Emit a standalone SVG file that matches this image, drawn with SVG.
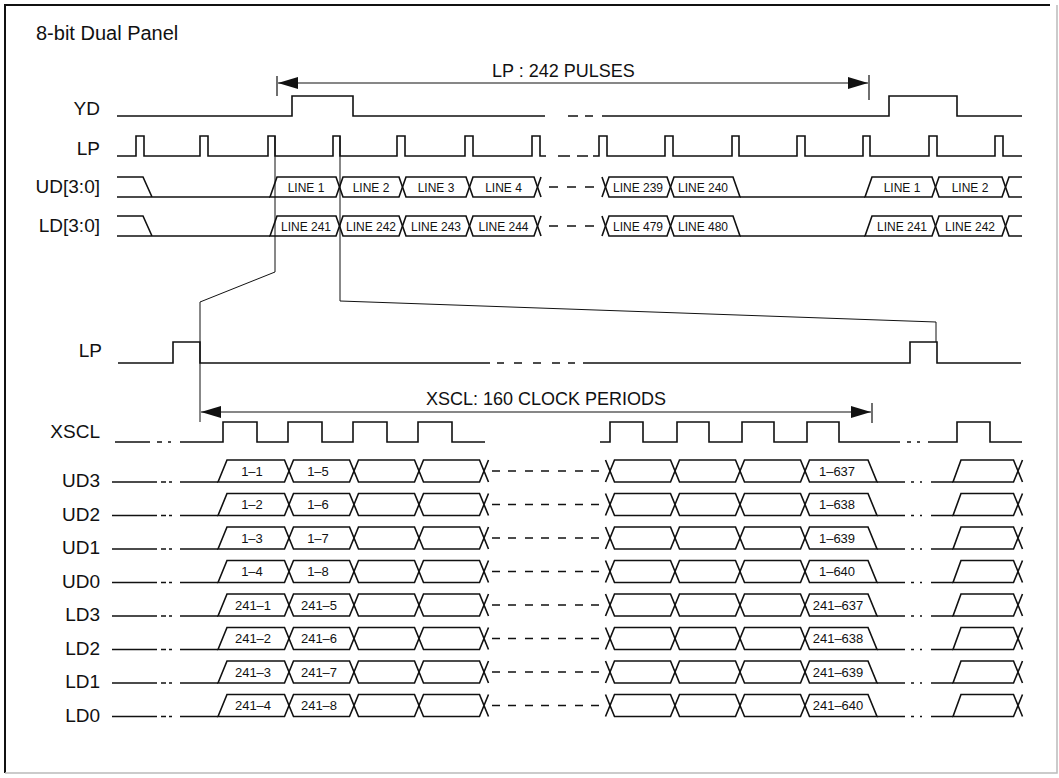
<svg xmlns="http://www.w3.org/2000/svg" width="1059" height="778" viewBox="0 0 1059 778">
<style>
  text { font-family: "Liberation Sans", Arial, Helvetica, sans-serif; fill: #111; }
  .title { font-size: 20px; }
  .lbl { font-size: 19px; text-anchor: end; }
  .ann { font-size: 18px; text-anchor: middle; }
  .bus { font-size: 12px; text-anchor: middle; }
  .cell { font-size: 13px; text-anchor: middle; }
  .w { fill: none; stroke: #111; stroke-width: 1.6; stroke-linejoin: miter; }
  .conn { fill: none; stroke: #111; stroke-width: 1; }
  .dim { fill: none; stroke: #111; stroke-width: 1.2; }
</style>
<defs>
  <marker id="ah" viewBox="0 0 20 12" refX="20" refY="6" markerWidth="20" markerHeight="12" markerUnits="userSpaceOnUse" orient="auto-start-reverse">
    <path d="M0,0 L20,6 L0,12 z" fill="#111"/>
  </marker>
  <g id="topbus" class="w">
    <path d="M117,0 H143 L152,20 M117,20 H270"/>
    <polygon points="270,20 277,0 336,0 339.5,10 336,20"/>
    <polygon points="339.5,10 343,0 399,0 402.5,10 399,20 343,20"/>
    <polygon points="402.5,10 406,0 466,0 469.5,10 466,20 406,20"/>
    <polygon points="469.5,10 473,0 534,0 537.5,10 534,20 473,20"/>
    <path d="M537.5,10 L541,0 M537.5,10 L541,20 M549,10 H558 M567,10 H576 M585,10 H594 M602,0 L605.5,10 L602,20"/>
    <polygon points="605.5,10 609,0 667,0 670.5,10 667,20 609,20"/>
    <polygon points="670.5,10 674,0 733,0 740,20 674,20"/>
    <path d="M740,20 H865"/>
    <polygon points="865,20 872,0 932,0 935.5,10 932,20"/>
    <polygon points="935.5,10 939,0 1002,0 1005.5,10 1002,20 939,20"/>
    <path d="M1005.5,10 L1009,0 H1022 M1005.5,10 L1009,20 H1022"/>
  </g>
  <g id="row" class="w">
    <path d="M112,0 H157 M161,0 H166 M169,0 H172 M180,0 H218"/>
    <polygon points="218,0 227,-22 284.5,-22 289,-11 284.5,0"/>
    <polygon points="289,-11 293.5,-22 349.5,-22 354,-11 349.5,0 293.5,0"/>
    <polygon points="354,-11 358.5,-22 414.5,-22 419,-11 414.5,0 358.5,0"/>
    <polygon points="419,-11 423.5,-22 479.5,-22 484,-11 479.5,0 423.5,0"/>
    <path d="M484,-11 L488.5,-22 M484,-11 L488.5,0 M492,-11 H500 M508,-11 H516 M525,-11 H533 M541,-11 H549 M558,-11 H566 M575,-11 H583 M591,-11 H599 M605.5,-22 L610,-11 L605.5,0"/>
    <polygon points="610,-11 614.5,-22 670.5,-22 675,-11 670.5,0 614.5,0"/>
    <polygon points="675,-11 679.5,-22 735.5,-22 740,-11 735.5,0 679.5,0"/>
    <polygon points="740,-11 744.5,-22 800.5,-22 805,-11 800.5,0 744.5,0"/>
    <polygon points="805,-11 809.5,-22 868,-22 877,0 809.5,0"/>
    <path d="M877,0 H905 M911,0 H914 M920,0 H922 M931,0 H953"/>
    <polygon points="953,0 961,-22 1013.5,-22 1018,-11 1013.5,0"/>
    <path d="M1018,-11 L1022.5,-22 M1018,-11 L1022.5,0"/>
  </g>
</defs>

<g id="frame">
  <path d="M5,773 V5 H1050" fill="none" stroke="#111" stroke-width="2"/>
  <path d="M5,773 H1057 V5" fill="none" stroke="#bbb" stroke-width="1.5"/>
  <text class="title" x="36" y="40">8-bit Dual Panel</text>
</g>

<g id="lp-pulses-dim">
  <path class="dim" d="M277,76 V96 M869,75 V100"/>
  <line class="dim" x1="278" y1="83" x2="868" y2="83" marker-start="url(#ah)" marker-end="url(#ah)"/>
  <text class="ann" x="563.5" y="77">LP : 242 PULSES</text>
</g>

<g id="yd">
  <text class="lbl" x="100" y="115">YD</text>
  <path class="w" d="M117,116 H292 V96 H353 V116 H545 M568,116 H578 M585,116 H593 M602,116 H889 V96 H957 V116 H1022"/>
</g>

<g id="lp-top">
  <text class="lbl" x="100" y="155">LP</text>
  <path class="w" d="M117,156 H136 V136 H144 V156 H200 V136 H208 V156 H268 V136 H275 V156 H333 V136 H340 V156 H397 V136 H405 V156 H465 V136 H473 V156 H532 V136 H540 V156 H546 M558,156 H570 M577,156 H588 M593,156 H599 V136 H607 V156 H665 V136 H673 V156 H732 V136 H739 V156 H797 V136 H805 V156 H863 V136 H870 V156 H929 V136 H937 V156 H995 V136 H1003 V156 H1022"/>
</g>

<g id="ud-bus">
  <text class="lbl" x="100" y="193">UD[3:0]</text>
  <use href="#topbus" transform="translate(0,177)"/>
  <text class="bus" x="306" y="191.5">LINE 1</text>
  <text class="bus" x="371" y="191.5">LINE 2</text>
  <text class="bus" x="436" y="191.5">LINE 3</text>
  <text class="bus" x="503.5" y="191.5">LINE 4</text>
  <text class="bus" x="638" y="191.5">LINE 239</text>
  <text class="bus" x="703" y="191.5">LINE 240</text>
  <text class="bus" x="902" y="191.5">LINE 1</text>
  <text class="bus" x="970" y="191.5">LINE 2</text>
</g>

<g id="ld-bus">
  <text class="lbl" x="100" y="232">LD[3:0]</text>
  <use href="#topbus" transform="translate(0,216)"/>
  <text class="bus" x="306" y="230.5">LINE 241</text>
  <text class="bus" x="371" y="230.5">LINE 242</text>
  <text class="bus" x="436" y="230.5">LINE 243</text>
  <text class="bus" x="503.5" y="230.5">LINE 244</text>
  <text class="bus" x="638" y="230.5">LINE 479</text>
  <text class="bus" x="703" y="230.5">LINE 480</text>
  <text class="bus" x="902" y="230.5">LINE 241</text>
  <text class="bus" x="970" y="230.5">LINE 242</text>
</g>

<g id="connectors">
  <path class="conn" d="M275,136 V272 L200,302 V422"/>
  <path class="conn" d="M340,136 V301 L936,322 V342"/>
</g>

<g id="lp-bottom">
  <text class="lbl" x="102" y="357">LP</text>
  <path class="w" d="M118,363 H173 V342 H200 V363 H490 M497,363 H504 M514,363 H522 M533,363 H541 M552,363 H560 M568,363 H575 M583,363 H910 V342 H937 V363 H1021"/>
</g>

<g id="xscl-dim">
  <path class="dim" d="M872,403 V423"/>
  <line class="dim" x1="201" y1="412" x2="871" y2="412" marker-start="url(#ah)" marker-end="url(#ah)"/>
  <text class="ann" x="546" y="405">XSCL: 160 CLOCK PERIODS</text>
</g>

<g id="xscl">
  <text class="lbl" x="100" y="438">XSCL</text>
  <path class="w" d="M115,442 H150 M157,442 H162 M168,442 H171 M180,442 H223 V422 H257 V442 H288 V422 H322 V442 H353 V422 H387 V442 H418 V422 H452 V442 H485 M600,442 H610 V422 H643 V442 H677 V422 H709 V442 H742 V422 H774 V442 H807 V422 H839 V442 H900 M907,442 H911 M917,442 H920 M928,442 H957 V422 H990 V442 H1022"/>
</g>

<g id="ud3">
  <use href="#row" transform="translate(0,482)"/>
  <text class="lbl" x="100" y="487">UD3</text>
  <text class="cell" x="252" y="475.5">1–1</text>
  <text class="cell" x="318" y="475.5">1–5</text>
  <text class="cell" x="837" y="475.5">1–637</text>
</g>
<g id="ud2">
  <use href="#row" transform="translate(0,515.5)"/>
  <text class="lbl" x="100" y="520.5">UD2</text>
  <text class="cell" x="252" y="509">1–2</text>
  <text class="cell" x="318" y="509">1–6</text>
  <text class="cell" x="837" y="509">1–638</text>
</g>
<g id="ud1">
  <use href="#row" transform="translate(0,549)"/>
  <text class="lbl" x="100" y="554">UD1</text>
  <text class="cell" x="252" y="542.5">1–3</text>
  <text class="cell" x="318" y="542.5">1–7</text>
  <text class="cell" x="837" y="542.5">1–639</text>
</g>
<g id="ud0">
  <use href="#row" transform="translate(0,582.5)"/>
  <text class="lbl" x="100" y="587.5">UD0</text>
  <text class="cell" x="252" y="576">1–4</text>
  <text class="cell" x="318" y="576">1–8</text>
  <text class="cell" x="837" y="576">1–640</text>
</g>
<g id="ld3">
  <use href="#row" transform="translate(0,616)"/>
  <text class="lbl" x="100" y="621">LD3</text>
  <text class="cell" x="253" y="609.5">241–1</text>
  <text class="cell" x="319" y="609.5">241–5</text>
  <text class="cell" x="838" y="609.5">241–637</text>
</g>
<g id="ld2">
  <use href="#row" transform="translate(0,649.5)"/>
  <text class="lbl" x="100" y="654.5">LD2</text>
  <text class="cell" x="253" y="643">241–2</text>
  <text class="cell" x="319" y="643">241–6</text>
  <text class="cell" x="838" y="643">241–638</text>
</g>
<g id="ld1">
  <use href="#row" transform="translate(0,683)"/>
  <text class="lbl" x="100" y="688">LD1</text>
  <text class="cell" x="253" y="676.5">241–3</text>
  <text class="cell" x="319" y="676.5">241–7</text>
  <text class="cell" x="838" y="676.5">241–639</text>
</g>
<g id="ld0">
  <use href="#row" transform="translate(0,716.5)"/>
  <text class="lbl" x="100" y="721.5">LD0</text>
  <text class="cell" x="253" y="710">241–4</text>
  <text class="cell" x="319" y="710">241–8</text>
  <text class="cell" x="838" y="710">241–640</text>
</g>
</svg>
